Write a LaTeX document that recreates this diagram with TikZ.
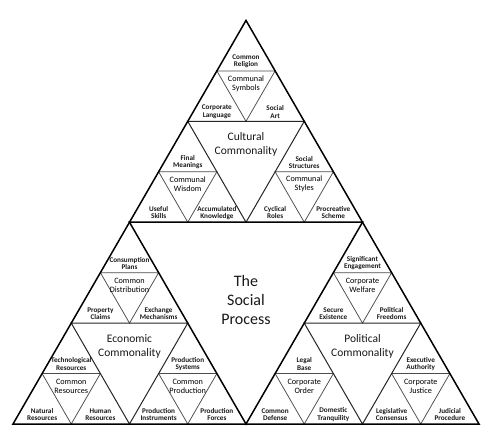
\documentclass[tikz,border=0pt]{standalone}
\usepackage{fontspec}
\setmainfont{Carlito}
\usetikzlibrary{calc}
\begin{document}
\begin{tikzpicture}[x=1pt,y=-1pt,
  lvthree/.style={draw=black!70,line width=0.75pt},
  lvtwo/.style={draw=black!85,line width=1pt},
  lvone/.style={draw=black,line width=1.5pt},
  lab/.style={align=center,inner sep=0pt,text=black!90,font=\bfseries\fontsize{7.2}{7.3}\selectfont},
  mid/.style={align=center,inner sep=0pt,text=black,font=\fontsize{8.2}{9}\selectfont},
  com/.style={align=center,inner sep=0pt,text=black!90,font=\fontsize{11.5}{14}\selectfont},
  big/.style={align=center,inner sep=0pt,text=black!90,font=\fontsize{16}{19}\selectfont}]
\useasboundingbox[fill=white] (0,0) rectangle (500,436);
\foreach \j in {0,...,8}{
  \foreach \i in {0,...,\j}{
    \coordinate (p\i-\j) at ({246+(\i-\j/2)*58.25},{20.43+\j*50.447});
  }
}
% level 3 inverted triangles
\draw[lvthree] (p0-1) -- (p1-1) -- (p1-2) -- cycle;
\draw[lvthree] (p0-3) -- (p1-3) -- (p1-4) -- cycle;
\draw[lvthree] (p2-3) -- (p3-3) -- (p3-4) -- cycle;
\draw[lvthree] (p0-5) -- (p1-5) -- (p1-6) -- cycle;
\draw[lvthree] (p0-7) -- (p1-7) -- (p1-8) -- cycle;
\draw[lvthree] (p2-7) -- (p3-7) -- (p3-8) -- cycle;
\draw[lvthree] (p4-5) -- (p5-5) -- (p5-6) -- cycle;
\draw[lvthree] (p4-7) -- (p5-7) -- (p5-8) -- cycle;
\draw[lvthree] (p6-7) -- (p7-7) -- (p7-8) -- cycle;
% level 2 inverted triangles
\draw[lvtwo] (p0-2) -- (p2-2) -- (p2-4) -- cycle;
\draw[lvtwo] (p0-6) -- (p2-6) -- (p2-8) -- cycle;
\draw[lvtwo] (p4-6) -- (p6-6) -- (p6-8) -- cycle;
% level 1 and outer
\draw[lvone] (p0-4) -- (p4-4) -- (p4-8) -- cycle;
\draw[lvone] (p0-0) -- (p0-8) -- (p8-8) -- cycle;
% Cultural
\node[lab,yshift=-41pt] (t1) at (p0-0) {Common\\Religion};
\node[lab,yshift=-41pt] (t2) at (p0-1) {Corporate\\Language};
\node[lab,yshift=-41pt] (t3) at (p1-1) {Social\\Art};
\node[mid,yshift=-12.5pt] (t4) at ($(p0-1)!0.5!(p1-1)$) {Communal\\Symbols};
\node[lab,yshift=-41pt] (t5) at (p0-2) {Final\\Meanings};
\node[lab,yshift=-41pt] (t6) at (p0-3) {Useful\\Skills};
\node[lab,yshift=-41pt] (t7) at (p1-3) {Accumulated\\Knowledge};
\node[mid,yshift=-12.5pt] (t8) at ($(p0-3)!0.5!(p1-3)$) {Communal\\Wisdom};
\node[lab,yshift=-41pt] (t9) at (p2-2) {Social\\Structures};
\node[lab,yshift=-41pt] (t10) at (p2-3) {Cyclical\\Roles};
\node[lab,yshift=-41pt] (t11) at (p3-3) {Procreative\\Scheme};
\node[mid,yshift=-12.5pt] (t12) at ($(p2-3)!0.5!(p3-3)$) {Communal\\Styles};
\node[com,yshift=-23.5pt] (cult) at ($(p0-2)!0.5!(p2-2)$) {Cultural\\Commonality};
% Economic
\node[lab,yshift=-41pt] (e1) at (p0-4) {Consumption\\Plans};
\node[lab,yshift=-41pt] (e2) at (p0-5) {Property\\Claims};
\node[lab,yshift=-41pt] (e3) at (p1-5) {Exchange\\Mechanisms};
\node[mid,yshift=-12.5pt] (e4) at ($(p0-5)!0.5!(p1-5)$) {Common\\Distribution};
\node[lab,yshift=-41pt] (e5) at (p0-6) {Technological\\Resources};
\node[lab,yshift=-41pt] (e6) at (p0-7) {Natural\\Resources};
\node[lab,yshift=-41pt] (e7) at (p1-7) {Human\\Resources};
\node[mid,yshift=-12.5pt] (e8) at ($(p0-7)!0.5!(p1-7)$) {Common\\Resources};
\node[lab,yshift=-41pt] (e9) at (p2-6) {Production\\Systems};
\node[lab,yshift=-41pt] (e10) at (p2-7) {Production\\Instruments};
\node[lab,yshift=-41pt] (e11) at (p3-7) {Production\\Forces};
\node[mid,yshift=-12.5pt] (e12) at ($(p2-7)!0.5!(p3-7)$) {Common\\Production};
\node[com,yshift=-23.5pt] (econ) at ($(p0-6)!0.5!(p2-6)$) {Economic\\Commonality};
% Political
\node[lab,yshift=-41pt] (q1) at (p4-4) {Significant\\Engagement};
\node[lab,yshift=-41pt] (q2) at (p4-5) {Secure\\Existence};
\node[lab,yshift=-41pt] (q3) at (p5-5) {Political\\Freedoms};
\node[mid,yshift=-12.5pt] (q4) at ($(p4-5)!0.5!(p5-5)$) {Corporate\\Welfare};
\node[lab,yshift=-41pt] (q5) at (p4-6) {Legal\\Base};
\node[lab,yshift=-41pt] (q6) at (p4-7) {Common\\Defense};
\node[lab,yshift=-41pt] (q7) at (p5-7) {Domestic\\Tranquility};
\node[mid,yshift=-12.5pt] (q8) at ($(p4-7)!0.5!(p5-7)$) {Corporate\\Order};
\node[lab,yshift=-41pt] (q9) at (p6-6) {Executive\\Authority};
\node[lab,yshift=-41pt] (q10) at (p6-7) {Legislative\\Consensus};
\node[lab,yshift=-41pt] (q11) at (p7-7) {Judicial\\Procedure};
\node[mid,yshift=-12.5pt] (q12) at ($(p6-7)!0.5!(p7-7)$) {Corporate\\Justice};
\node[com,yshift=-23.5pt] (pol) at ($(p4-6)!0.5!(p6-6)$) {Political\\Commonality};
% Center
\node[big,yshift=-78pt] (soc) at ($(p0-4)!0.5!(p4-4)$) {The\\Social\\Process};
\end{tikzpicture}
\end{document}
